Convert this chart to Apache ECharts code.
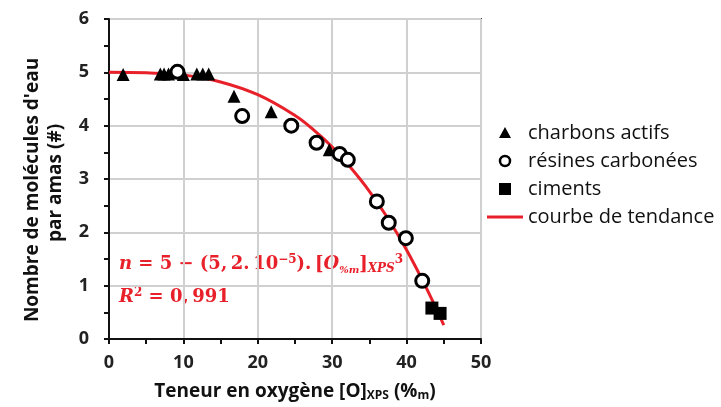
<!DOCTYPE html>
<html><head><meta charset="utf-8">
<script src="https://cdn.jsdelivr.net/npm/echarts@6/dist/echarts.min.js"></script>
<style>html,body{margin:0;padding:0;background:#fff}#c{width:721px;height:407px}</style>
</head><body><div id="c"></div>
<script>
const seriesNames = ['charbons actifs', 'résines carbonées', 'ciments', 'courbe de tendance'];
const charbons = [[1.9,4.96],[6.9,4.97],[7.4,4.97],[8.0,4.97],[10.0,4.96],[11.8,4.97],[12.6,4.97],[13.4,4.97],[16.8,4.55],[21.8,4.26],[29.6,3.55]];
const resines = [[9.2,5.01],[17.9,4.18],[24.5,4.0],[27.9,3.68],[31.0,3.47],[32.1,3.36],[36.0,2.58],[37.6,2.18],[39.9,1.89],[42.1,1.09]];
const ciments = [[43.4,0.58],[44.5,0.48]];
const tendance = [[0,5],[5,4.99],[10,4.95],[15,4.82],[20,4.58],[25,4.19],[27.5,3.92],[30,3.6],[32.5,3.21],[35,2.77],[37.5,2.26],[40,1.67],[42.5,1.0],[45,0.26]];
const xTicks = [0,10,20,30,40,50];
const yTicks = [0,1,2,3,4,5,6];
const yName = ["Nombre de molécules d'eau", 'par amas (#)'];

const chart = echarts.init(document.getElementById('c'));
const red = '#e8202a';
const ink = '#111';
// legend layout (manual)
const legX = 505, legTextX = 528, legRows = [133, 161, 189, 217];
const legFont = {fontFamily: 'Open Sans', fontSize: 20, fill: ink};
const legendGraphics = [
  {type: 'polygon', shape: {points: [[legX, legRows[0]-6], [legX-6, legRows[0]+5], [legX+6, legRows[0]+5]]}, style: {fill: '#000'}},
  {type: 'circle', shape: {cx: legX, cy: legRows[1], r: 5}, style: {fill: '#fff', stroke: '#000', lineWidth: 2.5}},
  {type: 'rect', shape: {x: legX-6, y: legRows[2]-6, width: 12, height: 12}, style: {fill: '#000'}},
  {type: 'line', shape: {x1: 487, y1: legRows[3], x2: 523, y2: legRows[3]}, style: {stroke: red, lineWidth: 3}}
].concat(seriesNames.map((n, i) => ({type: 'text', x: legTextX, y: legRows[i], style: Object.assign({text: n, verticalAlign: 'middle'}, legFont)})));

const yNameGraphics = [
  {type: 'text', x: 33, y: 190, rotation: Math.PI / 2, style: {text: yName[0], align: 'center', verticalAlign: 'middle', fontFamily: 'Open Sans', fontWeight: 'bold', fontSize: 19, fill: ink}},
  {type: 'text', x: 56, y: 183, rotation: Math.PI / 2, style: {text: yName[1], align: 'center', verticalAlign: 'middle', fontFamily: 'Open Sans', fontWeight: 'bold', fontSize: 19, fill: ink}}
];

const serifB = 'DejaVu Serif';
const fs = 18;
chart.setOption({
  animation: false,
  textStyle: {fontFamily: 'Open Sans'},
  grid: {left: 109, right: 240, top: 19, bottom: 68, outerBoundsMode: 'none', containLabel: false, show: true, borderColor: '#444', borderWidth: 2, backgroundColor: 'transparent'},
  xAxis: {
    type: 'value', min: 0, max: 50, interval: 10,
    axisLine: {lineStyle: {color: ink, width: 2}},
    axisTick: {show: true, length: 5, lineStyle: {color: ink, width: 2}},
    minorTick: {show: true, splitNumber: 2, length: 5, lineStyle: {color: ink, width: 2}},
    splitLine: {show: true, lineStyle: {color: '#d0d0d0', width: 2}},
    axisLabel: {fontSize: 18, fontWeight: 'bold', color: '#222', margin: 15, formatter: v => xTicks.includes(v) ? String(v) : ''},
    name: '{n|Teneur en oxygène [O]}{s|XPS}{n| (%}{s|m}{n|)}', nameLocation: 'middle', nameGap: 42,
    nameTextStyle: {rich: {
      n: {fontSize: 19, fontWeight: 'bold', color: ink, fontFamily: 'Open Sans'},
      s: {fontSize: 12, fontWeight: 'bold', color: ink, fontFamily: 'Open Sans', verticalAlign: 'bottom', padding: [9,0,0,0]}
    }}
  },
  yAxis: {
    type: 'value', min: 0, max: 6, interval: 1,
    axisLine: {show: true, lineStyle: {color: ink, width: 2}},
    axisTick: {show: true, length: 5, lineStyle: {color: ink, width: 2}},
    minorTick: {show: true, splitNumber: 2, length: 5, lineStyle: {color: ink, width: 2}},
    splitLine: {show: true, lineStyle: {color: '#d0d0d0', width: 2}},
    axisLabel: {fontSize: 18, fontWeight: 'bold', color: '#222', margin: 20, formatter: v => yTicks.includes(v) ? String(v) : ''}
  },
  series: [
    {name: seriesNames[3], type: 'line', data: tendance, smooth: 0.4, symbol: 'none', lineStyle: {color: red, width: 3}, itemStyle: {color: red}, z: 1},
    {name: seriesNames[0], type: 'scatter', data: charbons, symbol: 'triangle', symbolSize: 13, itemStyle: {color: '#000', opacity: 1}, z: 3},
    {name: seriesNames[1], type: 'scatter', data: resines, symbol: 'circle', symbolSize: 13, itemStyle: {color: '#fff', borderColor: '#000', borderWidth: 3, opacity: 1}, z: 4},
    {name: seriesNames[2], type: 'scatter', data: ciments, symbol: 'rect', symbolSize: 13, itemStyle: {color: '#000', opacity: 1}, z: 3}
  ],
  graphic: legendGraphics.concat(yNameGraphics, [
    {type: 'text', left: 119, top: 254, style: {
      text: '{i|n}{b| = 5 − (5,\u20092.\u200910}{sup|−5}{b|).\u2009[}{i|O}{sub|%m}{b|]}{subi|XPS}{sup|3}',
      rich: {
        i: {fontFamily: serifB, fontStyle: 'italic', fontWeight: 'bold', fontSize: fs, fill: red},
        b: {fontFamily: serifB, fontWeight: 'bold', fontSize: fs, fill: red},
        sup: {fontFamily: serifB, fontWeight: 'bold', fontSize: 12, fill: red, verticalAlign: 'top', padding: [0,0,9,0]},
        sub: {fontFamily: serifB, fontStyle: 'italic', fontWeight: 'bold', fontSize: 10, fill: red, verticalAlign: 'bottom', padding: [8,0,0,0]},
        subi: {fontFamily: serifB, fontStyle: 'italic', fontWeight: 'bold', fontSize: 12, fill: red, verticalAlign: 'bottom', padding: [9,0,0,0]}
      }
    }},
    {type: 'text', left: 119, top: 287, style: {
      text: '{i|R}{sup|2}{b| = 0,\u2009991}',
      rich: {
        i: {fontFamily: serifB, fontStyle: 'italic', fontWeight: 'bold', fontSize: fs, fill: red},
        b: {fontFamily: serifB, fontWeight: 'bold', fontSize: fs, fill: red},
        sup: {fontFamily: serifB, fontWeight: 'bold', fontSize: 12, fill: red, verticalAlign: 'top', padding: [0,0,9,0]}
      }
    }}
  ])
});
</script></body></html>
